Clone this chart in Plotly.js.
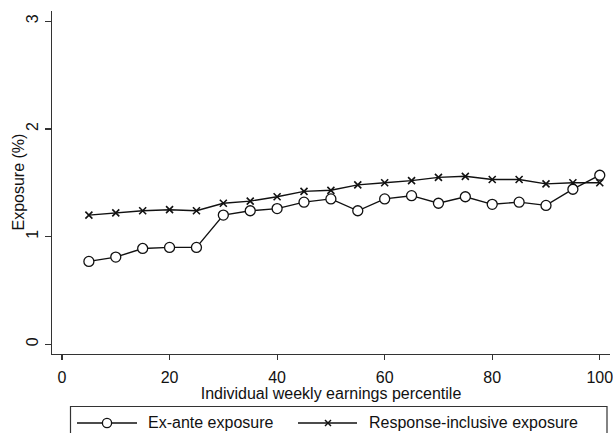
<!DOCTYPE html>
<html>
<head>
<meta charset="utf-8">
<script src="https://cdn.plot.ly/plotly-3.0.1.min.js"></script>
<style>
  html, body { margin: 0; padding: 0; background: #fff; }
  #chart { width: 613px; height: 433px; }
</style>
</head>
<body>
<div id="chart"></div>
<script>
// Earnings percentile bins
const percentiles = [5, 10, 15, 20, 25, 30, 35, 40, 45, 50, 55, 60, 65, 70, 75, 80, 85, 90, 95, 100];

// Exposure (%) by percentile
const exAnte = [0.77, 0.81, 0.89, 0.90, 0.90, 1.20, 1.24, 1.26, 1.32, 1.35, 1.24, 1.35, 1.38, 1.31, 1.37, 1.30, 1.32, 1.29, 1.44, 1.57];
const responseInclusive = [1.20, 1.22, 1.24, 1.25, 1.24, 1.31, 1.33, 1.37, 1.42, 1.43, 1.48, 1.50, 1.52, 1.55, 1.56, 1.53, 1.53, 1.49, 1.50, 1.50];

const xTicks = [0, 20, 40, 60, 80, 100];
const yTicks = [0, 1, 2, 3];

const seriesNames = ['Ex-ante exposure', 'Response-inclusive exposure'];
const xTitle = 'Individual weekly earnings percentile';
const yTitle = 'Exposure (%)';

const W = 613, H = 433;
const M = { l: 52, r: 3, t: 11, b: 79 };
const plotW = W - M.l - M.r, plotH = H - M.t - M.b;
// pixel -> paper coordinates for items placed outside the plot area
const px = v => (v - M.l) / plotW;
const py = v => (H - M.b - v) / plotH;

const ink = '#111';
const axisInk = '#333';
const font = 'Liberation Sans, Arial, sans-serif';
const fs = 16;

const traces = [
  {
    x: percentiles, y: responseInclusive, name: seriesNames[1],
    type: 'scatter', mode: 'lines+markers',
    line: { color: ink, width: 1.4 },
    marker: { symbol: 'x-thin-open', size: 7, color: ink, line: { color: ink, width: 1.6 } },
    showlegend: false
  },
  {
    x: percentiles, y: exAnte, name: seriesNames[0],
    type: 'scatter', mode: 'lines+markers',
    line: { color: ink, width: 1.4 },
    marker: { symbol: 'circle', size: 10, color: '#fff', line: { color: ink, width: 1.3 } },
    showlegend: false
  }
];

// Legend drawn underneath the x-axis title
const legY = py(423);
const shapes = [
  { type: 'rect', xref: 'paper', yref: 'paper', x0: px(70.5), x1: px(607), y0: py(406.5), y1: py(445),
    line: { color: axisInk, width: 1.2 }, fillcolor: 'rgba(0,0,0,0)' },
  { type: 'line', xref: 'paper', yref: 'paper', x0: px(77), x1: px(137), y0: legY, y1: legY,
    line: { color: ink, width: 1.4 } },
  { type: 'circle', xref: 'paper', yref: 'paper', xsizemode: 'pixel', ysizemode: 'pixel',
    xanchor: px(107), yanchor: legY, x0: -4.6, x1: 4.6, y0: -4.6, y1: 4.6,
    fillcolor: '#fff', line: { color: ink, width: 1.3 } },
  { type: 'line', xref: 'paper', yref: 'paper', x0: px(298), x1: px(357), y0: legY, y1: legY,
    line: { color: ink, width: 1.4 } },
  { type: 'line', xref: 'paper', yref: 'paper', xsizemode: 'pixel', ysizemode: 'pixel',
    xanchor: px(328), yanchor: legY, x0: -3, x1: 3, y0: -3, y1: 3, line: { color: ink, width: 1.5 } },
  { type: 'line', xref: 'paper', yref: 'paper', xsizemode: 'pixel', ysizemode: 'pixel',
    xanchor: px(328), yanchor: legY, x0: -3, x1: 3, y0: 3, y1: -3, line: { color: ink, width: 1.5 } }
];

const annotations = [
  { text: yTitle, xref: 'paper', yref: 'paper', x: px(18), y: 0.5, textangle: -90,
    xanchor: 'center', yanchor: 'middle', showarrow: false, font: { size: fs, color: ink, family: font } },
  { text: seriesNames[0], xref: 'paper', yref: 'paper', x: px(146), y: legY,
    xanchor: 'left', yanchor: 'middle', showarrow: false, font: { size: fs, color: ink, family: font } },
  { text: seriesNames[1], xref: 'paper', yref: 'paper', x: px(367), y: legY,
    xanchor: 'left', yanchor: 'middle', showarrow: false, font: { size: fs, color: ink, family: font } }
];

const layout = {
  width: W, height: H,
  margin: M,
  paper_bgcolor: '#fff', plot_bgcolor: '#fff',
  font: { family: font, size: fs, color: ink },
  showlegend: false,
  xaxis: {
    range: [-1.86, 101.9],
    tickvals: xTicks, ticktext: xTicks.map(String),
    ticks: 'outside', ticklen: 5, tickwidth: 1.2, tickcolor: axisInk,
    ticklabelstandoff: 3, ticklabeloverflow: 'allow',
    showline: true, linecolor: axisInk, linewidth: 1.3,
    showgrid: false, zeroline: false,
    tickfont: { size: fs, color: ink },
    title: { text: xTitle, font: { size: fs, color: ink }, standoff: 1 }
  },
  yaxis: {
    range: [-0.09, 3.095],
    tickvals: yTicks, ticktext: yTicks.map(String),
    ticks: 'outside', ticklen: 6, tickwidth: 1.2, tickcolor: axisInk,
    tickangle: -90, ticklabeloverflow: 'allow',
    showline: true, linecolor: axisInk, linewidth: 1.3,
    showgrid: false, zeroline: false,
    tickfont: { size: fs, color: ink }
  },
  shapes: shapes,
  annotations: annotations
};

Plotly.newPlot('chart', traces, layout, { staticPlot: true, displayModeBar: false });
</script>
</body>
</html>
